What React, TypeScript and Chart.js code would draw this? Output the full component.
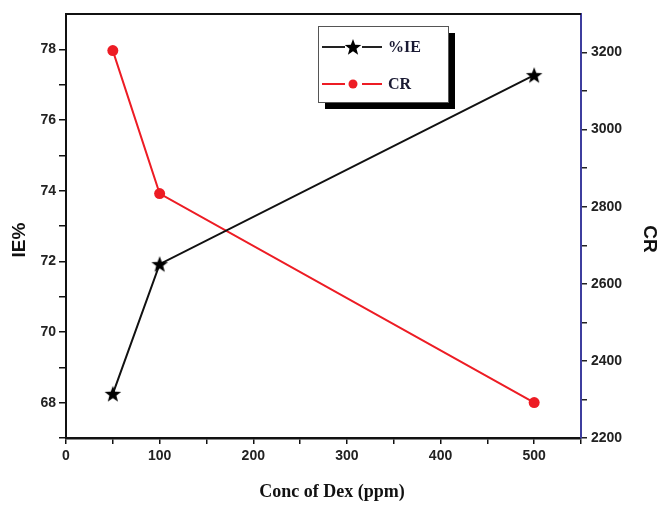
import React, { useEffect, useRef } from "react";
import { Chart, registerables } from "chart.js";

Chart.register(...registerables);

const concentrations = [50, 100, 500];
const ieValues = [68.25, 71.92, 77.27];
const crValues = [3205, 2834, 2292];
const xTickLabels = [0, 100, 200, 300, 400, 500];
const ieTickLabels = [68, 70, 72, 74, 76, 78];
const crTickLabels = [2200, 2400, 2600, 2800, 3000, 3200];

const ieLabel = "%IE";
const crLabel = "CR";
const xTitle = "Conc of Dex (ppm)";
const yLeftTitle = "IE%";
const yRightTitle = "CR";

const RED = "#ed1c24";
const BLUE_AXIS = "#3d3d9e";
const TICK_FONT = { family: "'Liberation Sans', Arial, sans-serif", size: 14, weight: "bold" as const };

function makeStar(size: number, color: string): HTMLCanvasElement {
  const c = document.createElement("canvas");
  c.width = size;
  c.height = size;
  const ctx = c.getContext("2d")!;
  const cx = size / 2;
  const cy = size / 2 + 0.6;
  const R = size / 2 - 0.3;
  const r = R * 0.42;
  ctx.beginPath();
  for (let i = 0; i < 10; i++) {
    const ang = -Math.PI / 2 + (i * Math.PI) / 5;
    const rad = i % 2 === 0 ? R : r;
    const px = cx + rad * Math.cos(ang);
    const py = cy + rad * Math.sin(ang);
    if (i === 0) ctx.moveTo(px, py);
    else ctx.lineTo(px, py);
  }
  ctx.closePath();
  ctx.fillStyle = color;
  ctx.fill();
  return c;
}

export default function App() {
  const ref = useRef<HTMLCanvasElement | null>(null);

  useEffect(() => {
    if (!ref.current) return;
    const star = makeStar(18, "#000");

    const decorPlugin = {
      id: "decor",
      afterDraw(chart: any) {
        const ctx = chart.ctx as CanvasRenderingContext2D;
        const a = chart.chartArea;
        ctx.save();
        ctx.strokeStyle = "#111";
        ctx.lineWidth = 2;
        ctx.beginPath();
        ctx.moveTo(a.left, a.top);
        ctx.lineTo(a.right, a.top);
        ctx.stroke();

        const lx = 318, ly = 26, lw = 130, lh = 76;
        ctx.fillStyle = "#000";
        ctx.fillRect(lx + 7, ly + 7, lw, lh);
        ctx.fillStyle = "#fff";
        ctx.fillRect(lx, ly, lw, lh);
        ctx.strokeStyle = "#555";
        ctx.lineWidth = 1;
        ctx.strokeRect(lx + 0.5, ly + 0.5, lw, lh);

        const entries = [
          { label: chart.data.datasets[0].label, color: "#222", y: 47, marker: "star" },
          { label: chart.data.datasets[1].label, color: RED, y: 84, marker: "circle" },
        ];
        for (const e of entries) {
          ctx.strokeStyle = e.color;
          ctx.lineWidth = 2;
          ctx.beginPath();
          ctx.moveTo(322, e.y);
          ctx.lineTo(345, e.y);
          ctx.moveTo(362, e.y);
          ctx.lineTo(382, e.y);
          ctx.stroke();
          if (e.marker === "star") {
            ctx.drawImage(star, 353 - 9, e.y - 9);
          } else {
            ctx.fillStyle = RED;
            ctx.beginPath();
            ctx.arc(353, e.y, 4.5, 0, Math.PI * 2);
            ctx.fill();
          }
          ctx.fillStyle = "#1a1a33";
          ctx.font = "bold 16px 'Liberation Serif', 'Times New Roman', serif";
          ctx.textAlign = "left";
          ctx.textBaseline = "middle";
          ctx.fillText(e.label, 388, e.y + 1);
        }

        ctx.fillStyle = "#111";
        ctx.textAlign = "center";
        ctx.textBaseline = "middle";
        ctx.font = "bold 19px 'Liberation Sans', Arial, sans-serif";
        ctx.save();
        ctx.translate(20, 240);
        ctx.rotate(-Math.PI / 2);
        ctx.fillText(yLeftTitle, 0, 0);
        ctx.restore();
        ctx.save();
        ctx.translate(649, 239);
        ctx.rotate(Math.PI / 2);
        ctx.fillText(yRightTitle, 0, 0);
        ctx.restore();
        ctx.font = "bold 18px 'Liberation Serif', 'Times New Roman', serif";
        ctx.fillText(xTitle, 332, 492);
        ctx.restore();
      },
    };

    const chart = new Chart(ref.current, {
      type: "line",
      data: {
        datasets: [
          {
            label: ieLabel,
            data: concentrations.map((x, i) => ({ x, y: ieValues[i] })),
            borderColor: "#111",
            backgroundColor: "#000",
            borderWidth: 2,
            pointStyle: star as any,
            pointRadius: 9,
            yAxisID: "y",
          },
          {
            label: crLabel,
            data: concentrations.map((x, i) => ({ x, y: crValues[i] })),
            borderColor: RED,
            backgroundColor: RED,
            borderWidth: 2,
            pointStyle: "circle",
            pointRadius: 5.5,
            pointBorderWidth: 0,
            yAxisID: "y1",
          },
        ],
      },
      options: {
        responsive: false,
        animation: false,
        layout: { padding: { top: 14, left: 0, right: 0, bottom: 0 } },
        plugins: { legend: { display: false }, tooltip: { enabled: false } },
        scales: {
          x: {
            type: "linear",
            min: 0,
            max: 550,
            ticks: {
              stepSize: 50,
              color: "#222",
              font: TICK_FONT,
              padding: 4,
              maxRotation: 0,
              autoSkip: false,
              callback: (v: any) => (xTickLabels.includes(Number(v)) ? String(v) : ""),
            },
            grid: { drawOnChartArea: false, drawTicks: true, tickLength: 6, color: "#111", lineWidth: 1.5 },
            border: { color: "#111", width: 2.5 },
            afterFit: (s: any) => {
              s.height = 68;
            },
          },
          y: {
            type: "linear",
            position: "left",
            min: 67,
            max: 79,
            ticks: {
              stepSize: 1,
              color: "#222",
              font: TICK_FONT,
              padding: 3,
              autoSkip: false,
              callback: (v: any) => (ieTickLabels.includes(Number(v)) ? String(v) : ""),
            },
            grid: {
              drawOnChartArea: false,
              drawTicks: true,
              tickLength: 7,
              color: (c: any) => (c.tick && c.tick.value === 79 ? "rgba(0,0,0,0)" : "#111"),
              lineWidth: 1.5,
            },
            border: { color: "#111", width: 2 },
            afterFit: (s: any) => {
              s.width = 66;
            },
          },
          y1: {
            type: "linear",
            position: "right",
            min: 2200,
            max: 3300,
            ticks: {
              stepSize: 100,
              color: "#222",
              font: TICK_FONT,
              padding: 4,
              autoSkip: false,
              callback: (v: any) => (crTickLabels.includes(Number(v)) ? String(v) : ""),
            },
            grid: {
              drawOnChartArea: false,
              drawTicks: true,
              tickLength: 6,
              color: (c: any) => (c.tick && c.tick.value === 3300 ? "rgba(0,0,0,0)" : "#222"),
              lineWidth: 1.5,
            },
            border: { color: BLUE_AXIS, width: 2 },
            afterFit: (s: any) => {
              s.width = 77;
            },
          },
        },
      },
      plugins: [decorPlugin],
    });
    return () => chart.destroy();
  }, []);

  return (
    <div style={{ position: "absolute", left: 0, top: 0, width: 658, height: 506, background: "#fff" }}>
      <canvas ref={ref} width={658} height={506} style={{ display: "block" }} />
    </div>
  );
}
